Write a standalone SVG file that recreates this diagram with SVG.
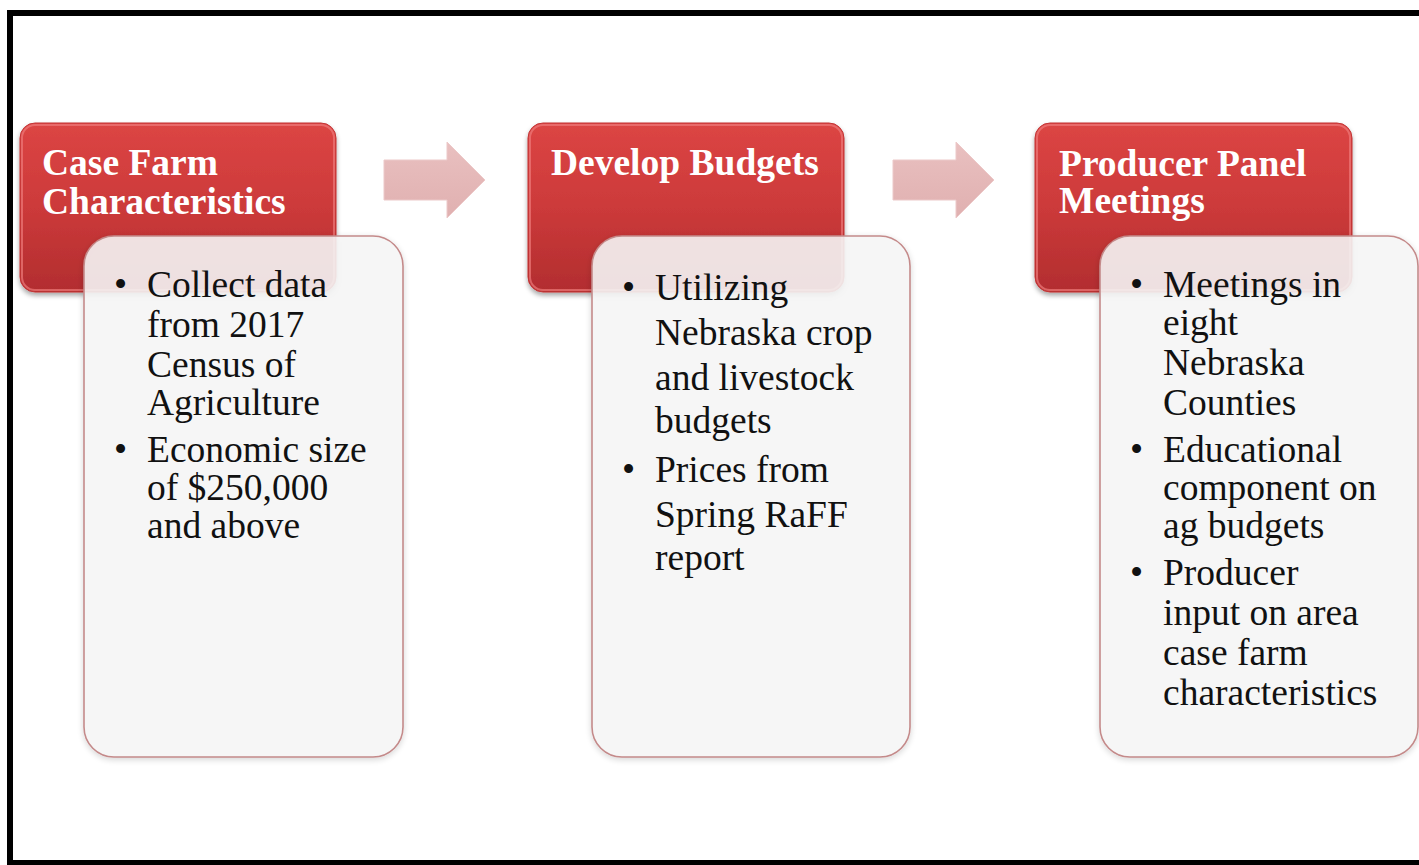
<svg xmlns="http://www.w3.org/2000/svg" width="1419" height="865" viewBox="0 0 1419 865">
  <defs>
    <linearGradient id="redGrad" x1="0" y1="0" x2="0" y2="1">
      <stop offset="0" stop-color="#dc4544"/>
      <stop offset="0.5" stop-color="#cc3a3a"/>
      <stop offset="1" stop-color="#b22d2f"/>
    </linearGradient>
    <linearGradient id="arrowGrad" x1="0" y1="0" x2="0" y2="1">
      <stop offset="0" stop-color="#e9c0c0"/>
      <stop offset="1" stop-color="#e0b0b0"/>
    </linearGradient>
    <filter id="shadow" x="-10%" y="-10%" width="120%" height="130%">
      <feGaussianBlur in="SourceAlpha" stdDeviation="2.5"/>
      <feOffset dx="0" dy="3" result="b"/>
      <feComponentTransfer><feFuncA type="linear" slope="0.35"/></feComponentTransfer>
      <feMerge><feMergeNode/><feMergeNode in="SourceGraphic"/></feMerge>
    </filter>
    <filter id="softShadow" x="-10%" y="-10%" width="120%" height="120%">
      <feGaussianBlur in="SourceAlpha" stdDeviation="3"/>
      <feOffset dx="0" dy="2"/>
      <feComponentTransfer><feFuncA type="linear" slope="0.18"/></feComponentTransfer>
      <feMerge><feMergeNode/><feMergeNode in="SourceGraphic"/></feMerge>
    </filter>
  </defs>
  <style>
    .head { fill: url(#redGrad); stroke: #c23535; stroke-width: 1; filter: url(#shadow); }
    .hl { fill: none; stroke: #ee7b7b; stroke-width: 2; opacity: 0.7; }
    .card { fill: #f7f7f7; fill-opacity: 0.88; stroke: #c48a8a; stroke-width: 1.6; filter: url(#softShadow); }
    .arrow { fill: url(#arrowGrad); stroke: #ecc9c9; stroke-width: 1; }
    .title { font-family: "Liberation Serif", "Times New Roman", serif; font-weight: bold; font-size: 37.5px; fill: #ffffff; }
    .body { font-family: "Liberation Serif", "Times New Roman", serif; font-size: 37.5px; fill: #111111; }
  </style>
  <rect x="0" y="0" width="1419" height="865" fill="#ffffff"/>
  <rect x="10" y="13" width="1430" height="850" fill="none" stroke="#000000" stroke-width="6"/>

  <g id="connectors">
    <path class="arrow" d="M384,160 H447 V142 L485,180 L447,218 V200 H384 Z"/>
    <path class="arrow" d="M893,160 H956 V142 L994,180 L956,218 V200 H893 Z"/>
  </g>

  <g id="node1">
    <rect class="head" x="20" y="123" width="316" height="169" rx="15"/>
    <rect class="hl" x="22" y="125" width="312" height="165" rx="13"/>
    <text class="title" x="42" y="175">Case Farm</text>
    <text class="title" x="42" y="214">Characteristics</text>
    <rect class="card" x="84" y="236" width="319" height="521" rx="30"/>
    <g class="body">
      <text x="114" y="297">•</text>
      <text x="147" y="297">Collect data</text>
      <text x="147" y="337">from 2017</text>
      <text x="147" y="377">Census of</text>
      <text x="147" y="415">Agriculture</text>
      <text x="114" y="462">•</text>
      <text x="147" y="462">Economic size</text>
      <text x="147" y="500">of $250,000</text>
      <text x="147" y="538">and above</text>
    </g>
  </g>

  <g id="node2">
    <rect class="head" x="528" y="123" width="316" height="169" rx="15"/>
    <rect class="hl" x="530" y="125" width="312" height="165" rx="13"/>
    <text class="title" x="551" y="175">Develop Budgets</text>
    <rect class="card" x="592" y="236" width="318" height="521" rx="30"/>
    <g class="body">
      <text x="622" y="300">•</text>
      <text x="655" y="300">Utilizing</text>
      <text x="655" y="345">Nebraska crop</text>
      <text x="655" y="390">and livestock</text>
      <text x="655" y="433">budgets</text>
      <text x="622" y="482">•</text>
      <text x="655" y="482">Prices from</text>
      <text x="655" y="527">Spring RaFF</text>
      <text x="655" y="570">report</text>
    </g>
  </g>

  <g id="node3">
    <rect class="head" x="1035" y="123" width="317" height="169" rx="15"/>
    <rect class="hl" x="1037" y="125" width="313" height="165" rx="13"/>
    <text class="title" x="1059" y="176">Producer Panel</text>
    <text class="title" x="1059" y="213">Meetings</text>
    <rect class="card" x="1100" y="236" width="318" height="521" rx="30"/>
    <g class="body">
      <text x="1130" y="297">•</text>
      <text x="1163" y="297">Meetings in</text>
      <text x="1163" y="335">eight</text>
      <text x="1163" y="375">Nebraska</text>
      <text x="1163" y="415">Counties</text>
      <text x="1130" y="462">•</text>
      <text x="1163" y="462">Educational</text>
      <text x="1163" y="500">component on</text>
      <text x="1163" y="538">ag budgets</text>
      <text x="1130" y="585">•</text>
      <text x="1163" y="585">Producer</text>
      <text x="1163" y="625">input on area</text>
      <text x="1163" y="665">case farm</text>
      <text x="1163" y="705">characteristics</text>
    </g>
  </g>
</svg>
